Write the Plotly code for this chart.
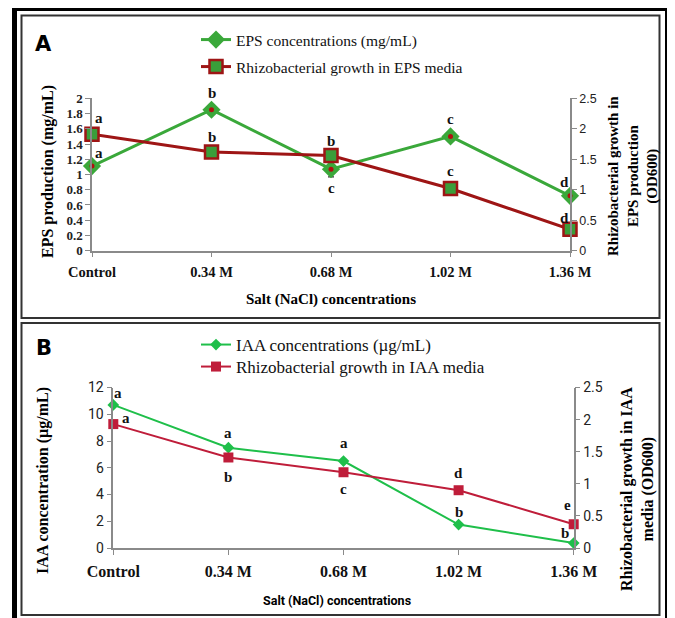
import plotly.graph_objects as go

W, H = 675, 618
OFF = 8  # page body margin offset of the figure inside the browser window

categories = ["Control", "0.34 M", "0.68 M", "1.02 M", "1.36 M"]
xpos = [0, 1, 2, 3, 4]

# Panel A
eps_conc = [1.11, 1.85, 1.07, 1.50, 0.72]
eps_err = [0.05, 0.04, 0.10, 0.06, 0.05]
eps_growth = [1.91, 1.62, 1.56, 1.02, 0.35]
eps_growth_err = [0.03, 0.03, 0.03, 0.04, 0.02]
eps_letters = ["a", "b", "c", "c", "d"]
eps_growth_letters = ["a", "b", "b", "c", "d"]

# Panel B
iaa_conc = [10.7, 7.5, 6.5, 1.75, 0.37]
iaa_growth = [1.93, 1.41, 1.18, 0.90, 0.37]
iaa_letters = ["a", "a", "a", "b", "b"]
iaa_growth_letters = ["a", "b", "c", "d", "e"]

A_GREEN = "#3aa83a"
A_RED = "#9e1515"
B_GREEN = "#1fbf4a"
B_RED = "#bf1d3a"
AXIS = "#8a8a8a"
SERIF = "Liberation Serif"
SANS = "Liberation Sans"


def px(x):
    return (x - OFF) / W


def py(y):
    return 1 - (y - OFF) / H


fig = go.Figure()

# ---- Panel A traces
fig.add_trace(go.Scatter(
    x=xpos, y=eps_conc, mode="lines+markers", name="EPS concentrations (mg/mL)",
    line=dict(color=A_GREEN, width=3),
    marker=dict(symbol="diamond", size=14, color=A_GREEN),
    error_y=dict(type="data", array=eps_err, color="#333", thickness=1.2, width=3),
    xaxis="x", yaxis="y", cliponaxis=False, legend="legend"))
fig.add_trace(go.Scatter(
    x=xpos, y=eps_conc, mode="markers", showlegend=False,
    marker=dict(symbol="circle", size=5, color="#b01010"),
    xaxis="x", yaxis="y", cliponaxis=False))
fig.add_trace(go.Scatter(
    x=xpos, y=eps_growth, mode="lines+markers", name="Rhizobacterial growth in EPS media",
    line=dict(color=A_RED, width=3),
    marker=dict(symbol="square", size=13, color="#3a9e3a", line=dict(color=A_RED, width=2.5)),
    error_y=dict(type="data", array=eps_growth_err, color="#333", thickness=1.2, width=3),
    xaxis="x", yaxis="y2", cliponaxis=False, legend="legend2"))

# ---- Panel B traces
fig.add_trace(go.Scatter(
    x=xpos, y=iaa_conc, mode="lines+markers", name="IAA concentrations (\u00b5g/mL)",
    line=dict(color=B_GREEN, width=2),
    marker=dict(symbol="diamond", size=9, color=B_GREEN),
    xaxis="x2", yaxis="y3", cliponaxis=False, legend="legend3"))
fig.add_trace(go.Scatter(
    x=xpos, y=iaa_growth, mode="lines+markers", name="Rhizobacterial growth in IAA media",
    line=dict(color=B_RED, width=2),
    marker=dict(symbol="square", size=10, color=B_RED),
    xaxis="x2", yaxis="y4", cliponaxis=False, legend="legend4"))

annotations = []


def letters(vals, labs, xref, yref, shifts):
    for i, (v, lab) in enumerate(zip(vals, labs)):
        dx, dy = shifts[i]
        annotations.append(dict(
            x=xpos[i], y=v, xref=xref, yref=yref, text=lab, showarrow=False,
            xanchor="center", yanchor="middle",
            xshift=dx, yshift=dy, font=dict(family=SERIF, size=15, color="#111", weight="bold")))


letters(eps_conc, eps_letters, "x", "y", [(7, 13), (0, 17), (0, -19), (0, 17), (-6, 14)])
letters(eps_growth, eps_growth_letters, "x", "y2", [(7, 16), (0, 15), (0, 15), (0, 18), (-6, 11)])
letters(iaa_conc, iaa_letters, "x2", "y3", [(5, 12), (0, 15), (0, 18), (0, 13), (-9, 10)])
letters(iaa_growth, iaa_growth_letters, "x2", "y4", [(13, 6), (0, -20), (0, -17), (0, 17), (-6, 19)])


def paper_text(x, y, text, font, angle=0):
    annotations.append(dict(x=px(x), y=py(y), xref="paper", yref="paper", text=text,
                            textangle=angle, showarrow=False, xanchor="center", yanchor="middle",
                            align="center", font=font))


paper_text(43, 44, "A", dict(family="DejaVu Sans", size=21, color="#000", weight="bold"))
paper_text(44, 348, "B", dict(family="DejaVu Sans", size=21, color="#000", weight="bold"))
paper_text(48, 172, "EPS production (mg/mL)", dict(family=SERIF, size=16, color="#000", weight="bold"), -90)
paper_text(633, 176, "Rhizobacterial growth in<br>EPS production<br>(OD600)",
           dict(family=SERIF, size=15, color="#000", weight="bold"), -90)
paper_text(331, 299, "Salt (NaCl) concentrations", dict(family=SERIF, size=15, color="#000", weight="bold"))
paper_text(43, 481, "IAA concentration (\u00b5g/mL)", dict(family=SERIF, size=16, color="#000", weight="bold"), -90)
paper_text(637, 489, "Rhizobacterial growth in IAA<br>media (OD600)",
           dict(family=SERIF, size=16, color="#000", weight="bold"), -90)
paper_text(337, 600, "Salt (NaCl) concentrations", dict(family="Roboto", size=12.5, color="#000", weight="bold"))

shapes = [
    dict(type="rect", xref="paper", yref="paper", x0=px(14.5), x1=px(667.5), y0=py(640), y1=py(8.5),
         line=dict(color="#000", width=5)),
    dict(type="rect", xref="paper", yref="paper", x0=px(21.5), x1=px(659.5), y0=py(318), y1=py(15.5),
         line=dict(color="#333", width=2)),
    dict(type="rect", xref="paper", yref="paper", x0=px(21.5), x1=px(659.5), y0=py(615), y1=py(323),
         line=dict(color="#333", width=2)),
]

common_x = dict(range=[0, 4], tickvals=xpos, ticktext=categories, showline=True, linecolor=AXIS,
                linewidth=1.5, ticks="outside", tickcolor=AXIS, ticklen=5, showgrid=False, zeroline=False,
                fixedrange=True, automargin=False)
common_y = dict(showline=True, linecolor=AXIS, linewidth=1.5, ticks="outside", tickcolor=AXIS, ticklen=5,
                showgrid=False, zeroline=False, automargin=False, tickformat="~g")

fig.update_layout(
    width=W, height=H, margin=dict(l=0, r=0, t=0, b=0, autoexpand=False),
    paper_bgcolor="white", plot_bgcolor="rgba(0,0,0,0)",
    xaxis=dict(common_x, domain=[px(92), px(570)], anchor="y",
               tickfont=dict(family=SERIF, size=14.5, color="#111", weight="bold"), ticklabelstandoff=2),
    yaxis=dict(common_y, domain=[py(250.7), py(98.3)], range=[0, 2], dtick=0.2, anchor="x",
               tickfont=dict(family=SERIF, size=13, color="#222", weight="bold")),
    yaxis2=dict(common_y, overlaying="y", side="right", anchor="x", range=[0, 2.5], dtick=0.5,
                tickfont=dict(family=SANS, size=12.5, color="#222")),
    xaxis2=dict(common_x, domain=[px(113.3), px(573.7)], anchor="y3",
                tickfont=dict(family=SERIF, size=16, color="#111", weight="bold"), ticklabelstandoff=3),
    yaxis3=dict(common_y, domain=[py(548), py(387.5)], range=[0, 12], dtick=2, anchor="x2",
                tickfont=dict(family="Roboto", size=14, color="#222")),
    yaxis4=dict(common_y, overlaying="y3", side="right", anchor="x2", range=[0, 2.5], dtick=0.5,
                tickfont=dict(family="Roboto", size=14, color="#222")),
    legend=dict(x=px(196), y=py(40), xanchor="left", yanchor="middle", bgcolor="rgba(0,0,0,0)",
                font=dict(family=SERIF, size=15.5, color="#111")),
    legend2=dict(x=px(196), y=py(67), xanchor="left", yanchor="middle", bgcolor="rgba(0,0,0,0)",
                 font=dict(family=SERIF, size=15.5, color="#111")),
    legend3=dict(x=px(196), y=py(345), xanchor="left", yanchor="middle", bgcolor="rgba(0,0,0,0)",
                 font=dict(family=SERIF, size=17, color="#111")),
    legend4=dict(x=px(196), y=py(367), xanchor="left", yanchor="middle", bgcolor="rgba(0,0,0,0)",
                 font=dict(family=SERIF, size=17, color="#111")),
    annotations=annotations, shapes=shapes, showlegend=True,
)

fig.write_html("out.html")
